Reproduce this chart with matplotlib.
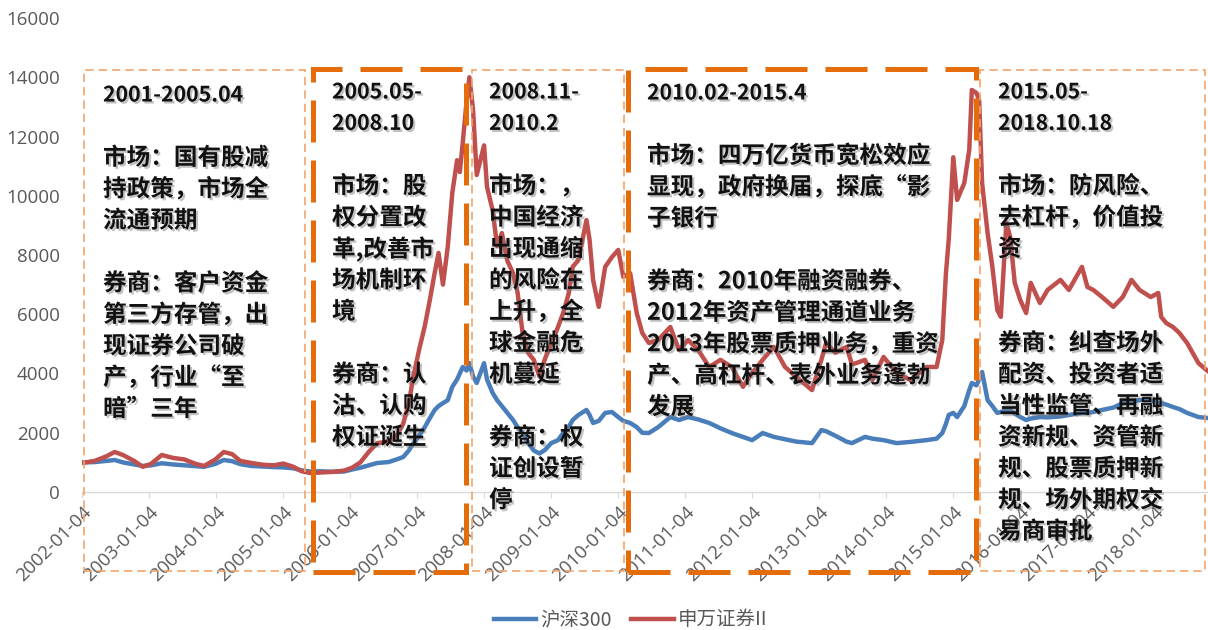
import matplotlib

matplotlib.use("Agg")
import matplotlib.dates as mdates
import matplotlib.patheffects as pe
import matplotlib.pyplot as plt
import pandas as pd
from matplotlib.lines import Line2D
from matplotlib.patches import Rectangle

plt.rcParams["font.family"] = ["Noto Sans CJK SC", "DejaVu Sans"]

# Indices rebases a 1000 au 2002-01-04
DATES = [
    "2002-01-04", "2002-03-15", "2002-05-15", "2002-07-01", "2002-08-15", "2002-10-15",
    "2002-12-01", "2003-01-15", "2003-03-15", "2003-05-15", "2003-07-15", "2003-09-15",
    "2003-11-01", "2004-01-01", "2004-02-15", "2004-04-01", "2004-05-15", "2004-07-15",
    "2004-09-15", "2004-11-15", "2005-01-04", "2005-03-01", "2005-04-15", "2005-06-01",
    "2005-08-01", "2005-10-01", "2005-12-01", "2006-01-15", "2006-03-01", "2006-04-15",
    "2006-06-01", "2006-08-01", "2006-09-15", "2006-10-20", "2006-11-20", "2006-12-15",
    "2007-01-15", "2007-02-15", "2007-03-15", "2007-04-10", "2007-05-01", "2007-05-25",
    "2007-06-20", "2007-07-15", "2007-08-10", "2007-08-25", "2007-09-10", "2007-10-01",
    "2007-10-16", "2007-11-05", "2007-11-25", "2008-01-04", "2008-01-20", "2008-02-20",
    "2008-03-15", "2008-04-10", "2008-05-10", "2008-06-10", "2008-07-05", "2008-08-01",
    "2008-09-01", "2008-10-01", "2008-11-01", "2008-12-01", "2009-01-04", "2009-02-10",
    "2009-03-10", "2009-04-10", "2009-05-01", "2009-06-01", "2009-07-15", "2009-08-01",
    "2009-08-20", "2009-09-20", "2009-10-25", "2009-12-01", "2010-01-04", "2010-02-01",
    "2010-03-10", "2010-04-15", "2010-05-15", "2010-06-20", "2010-08-10", "2010-10-15",
    "2010-12-01", "2011-01-20", "2011-03-15", "2011-05-15", "2011-07-15", "2011-09-15",
    "2011-11-15", "2012-01-04", "2012-03-01", "2012-05-01", "2012-07-01", "2012-09-01",
    "2012-11-25", "2013-01-15", "2013-02-10", "2013-04-01", "2013-06-01", "2013-07-01",
    "2013-09-10", "2013-10-20", "2013-12-20", "2014-03-01", "2014-05-15", "2014-08-10",
    "2014-10-05", "2014-11-05", "2014-11-25", "2014-12-10", "2015-01-04", "2015-01-25",
    "2015-03-05", "2015-04-01", "2015-04-15", "2015-05-10", "2015-05-25", "2015-06-10",
    "2015-07-10", "2015-08-05", "2015-09-01", "2015-09-20", "2015-10-20", "2015-11-10",
    "2015-12-05", "2016-01-04", "2016-02-05", "2016-03-01", "2016-04-20", "2016-06-01",
    "2016-08-10", "2016-09-25", "2016-12-05", "2017-01-04", "2017-02-05", "2017-03-25",
    "2017-05-25", "2017-07-15", "2017-09-01", "2017-10-15", "2017-12-15", "2018-01-25",
    "2018-02-10", "2018-03-10", "2018-04-15", "2018-05-20", "2018-07-01", "2018-08-01",
    "2018-09-01", "2018-10-18",
]

HS300 = [
    1000, 1010, 1050, 1080, 1000, 930,
    880, 900, 970, 930, 900, 870,
    850, 950, 1080, 1040, 940, 880,
    860, 840, 830, 800, 730, 690,
    700, 680, 690, 760, 820, 900,
    980, 1010, 1100, 1180, 1400, 1650,
    1900, 2190, 2500, 2770, 2900, 3000,
    3100, 3550, 3800, 4000, 4220, 4100,
    4350, 3900, 3680, 4350, 3800, 3340,
    3100, 2900, 2670, 2430, 2190, 1990,
    1650, 1400, 1300, 1420, 1650, 1750,
    1990, 2200, 2430, 2600, 2770, 2600,
    2330, 2400, 2670, 2700, 2530, 2400,
    2330, 2190, 2000, 1990, 2190, 2530,
    2430, 2530, 2450, 2330, 2150, 1990,
    1860, 1750, 1990, 1860, 1780, 1700,
    1650, 2090, 2050, 1900, 1700, 1650,
    1860, 1800, 1750, 1650, 1690, 1750,
    1800, 1990, 2300, 2600, 2670, 2530,
    2900, 3440, 3680, 3600, 3800, 4050,
    3100, 2900, 2670, 2700, 2770, 2750,
    2650, 2530, 2430, 2480, 2530, 2520,
    2550, 2600, 2670, 2670, 2700, 2770,
    2850, 3000, 3050, 3100, 3100, 3000,
    3000, 2950, 2870, 2800, 2670, 2600,
    2530, 2500,
]

SWZQ = [
    980, 1050, 1200, 1350, 1250, 1050,
    850, 950, 1250, 1150, 1100, 950,
    880, 1100, 1350, 1280, 1050, 980,
    920, 900, 960, 850, 700, 640,
    660, 680, 720, 820, 1000, 1350,
    1650, 1700, 1900, 2300, 3000, 3900,
    4800, 5600, 6500, 7400, 8070, 7000,
    8270, 10100, 11200, 10800, 11800, 13200,
    14000, 12900, 10700, 11700, 10300, 9500,
    8300, 8740, 7800, 7390, 6720, 5370,
    4690, 4460, 3900, 4500, 5000, 5570,
    6040, 6720, 7600, 7830, 9180, 8510,
    7160, 6250, 7600, 7930, 8170, 7260,
    7390, 6040, 5370, 5030, 5130, 5570,
    4800, 5130, 4800, 4220, 4460, 4220,
    3550, 4020, 4460, 4900, 4220, 3880,
    3440, 4460, 5030, 4700, 4900, 4300,
    4460, 3780, 4560, 4020, 3780, 4220,
    4220, 5130, 7390, 8510, 11300, 9860,
    10430, 11550, 13570, 13470, 13230, 10430,
    8740, 7600, 6140, 5910, 9080, 8610,
    7060, 6480, 6040, 7060, 6380, 6820,
    7160, 6820, 7600, 6920, 6820, 6580,
    6250, 6580, 7160, 6820, 6580, 6720,
    5910, 5700, 5570, 5370, 5030, 4690,
    4350, 4100,
]

SERIES_NAMES = ["沪深300", "申万证券II"]
TICK_LABELS = [f"{y}-01-04" for y in range(2002, 2019)]
Y_TICKS = [0, 2000, 4000, 6000, 8000, 10000, 12000, 14000, 16000]

# Periodes encadrees : debut, fin, trait epais ou non
PERIOD_START = ["2002-01-15", "2005-06-18", "2007-10-28", "2010-03-01", "2015-06-01"]
PERIOD_END = ["2005-05-05", "2007-09-25", "2010-02-05", "2015-05-10", "2018-10-05"]
PERIOD_THICK = [False, True, False, True, False]

# premiere(s) ligne(s) = intitule de la periode
NOTE_TITLES = [
    ["2001-2005.04"],
    ["2005.05-", "2008.10"],
    ["2008.11-", "2010.2"],
    ["2010.02-2015.4"],
    ["2015.05-", "2018.10.18"],
]
NOTES = [
    ["", "市场：国有股减", "持政策，市场全", "流通预期", "",
     "券商：客户资金", "第三方存管，出", "现证券公司破", "产，行业“至", "暗”三年"],
    ["", "市场：股", "权分置改", "革,改善市", "场机制环", "境", "",
     "券商：认", "沽、认购", "权证诞生"],
    ["", "市场：，", "中国经济", "出现通缩", "的风险在", "上升，全",
     "球金融危", "机蔓延", "", "券商：权", "证创设暂", "停"],
    ["", "市场：四万亿货币宽松效应", "显现，政府换届，探底“影", "子银行", "",
     "券商：2010年融资融券、", "2012年资产管理通道业务", "2013年股票质押业务，重资",
     "产、高杠杆、表外业务蓬勃", "发展"],
    ["", "市场：防风险、", "去杠杆，价值投", "资", "", "",
     "券商：纠查场外", "配资、投资者适", "当性监管、再融", "资新规、资管新", "规、股票质押新",
     "规、场外期权交", "易商审批"],
]

W, H = 1208, 630
BLUE = "#4A7EBB"
RED = "#C0504D"
GREY = "#595959"

x = pd.to_datetime(DATES)

fig = plt.figure(figsize=(W / 100, H / 100), dpi=100)
ax = fig.add_axes([82 / W, 1 - 492 / H, 1 - 82 / W, (492 - 18) / H])

ax.plot(x, HS300, color=BLUE, lw=3.2, solid_joinstyle="round", zorder=2)
ax.plot(x, SWZQ, color=RED, lw=3.2, solid_joinstyle="round", zorder=2)

ax.set_xlim(pd.Timestamp("2002-01-04"), pd.Timestamp("2018-10-23"))
ax.set_ylim(0, 16000)
ax.set_xticks(pd.to_datetime(TICK_LABELS))
ax.set_xticklabels(TICK_LABELS, rotation=45, ha="right", va="top", rotation_mode="anchor",
                   family="Open Sans", fontsize=13.5, color=GREY)
ax.set_yticks(Y_TICKS)
ax.set_yticklabels([str(v) for v in Y_TICKS], family="Open Sans", fontsize=13.5, color=GREY)
ax.tick_params(axis="x", length=4, color="#D9D9D9", pad=4)
ax.tick_params(axis="y", length=0, pad=16)
for side in ["left", "right", "top"]:
    ax.spines[side].set_visible(False)
ax.spines["bottom"].set_color("#D9D9D9")
ax.spines["bottom"].set_linewidth(1.0)

# cadres des periodes, debordant sous l'axe
for start, end, thick in zip(PERIOD_START, PERIOD_END, PERIOD_THICK):
    x0 = mdates.date2num(pd.Timestamp(start))
    x1 = mdates.date2num(pd.Timestamp(end))
    if thick:
        rect = Rectangle((x0, -2700), x1 - x0, 14280 + 2700, fill=False,
                         edgecolor="#E46C0A", lw=3.6, linestyle=(0, (8.4, 3.6)),
                         clip_on=False, zorder=3)
    else:
        rect = Rectangle((x0, -2680), x1 - x0, 14250 + 2680, fill=False,
                         edgecolor="#F2A46A", lw=1.2, linestyle=(0, (5, 3)),
                         clip_on=False, zorder=3)
    ax.add_patch(rect)

# textes des periodes
TEXT_X = [103, 332, 489, 647, 998]
TEXT_Y0 = [95, 92, 92, 93, 92]
LINE_DY = 31.4
shadow = [pe.withSimplePatchShadow(offset=(1.5, -1.5), shadow_rgbFace="#777777", alpha=0.45)]
for titles, lines, tx, ty in zip(NOTE_TITLES, NOTES, TEXT_X, TEXT_Y0):
    rows = [(t, 15.3) for t in titles] + [(l, 17) for l in lines]
    for i, (line, size) in enumerate(rows):
        if not line:
            continue
        fig.text(tx / W, 1 - (ty + i * LINE_DY) / H, line, ha="left", va="center",
                 fontsize=size, fontweight="bold", color="#111111",
                 path_effects=shadow, zorder=5)

handles = [Line2D([], [], color=BLUE, lw=3.2), Line2D([], [], color=RED, lw=3.2)]
leg = fig.legend(handles, SERIES_NAMES, loc="center", bbox_to_anchor=(0.522, 0.016),
                 ncol=2, frameon=False, fontsize=14, handlelength=2.2, handletextpad=0.2,
                 columnspacing=1.0)
for t in leg.get_texts():
    t.set_color(GREY)

fig.savefig("out.png", dpi=100, facecolor="white")
